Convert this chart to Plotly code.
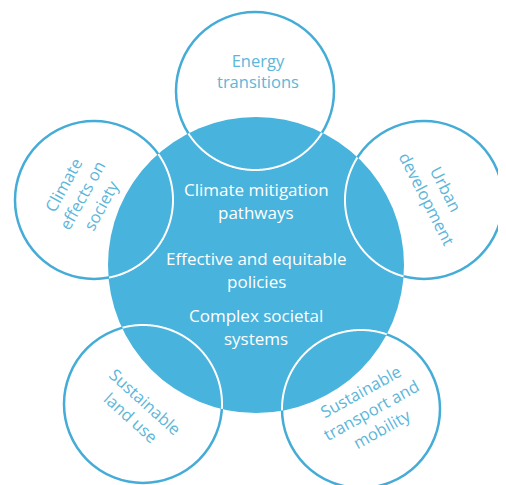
import numpy as np
import plotly.graph_objects as go

# ---- content ----
core_lines = ["Climate mitigation", "pathways",
              "Effective and equitable", "policies",
              "Complex societal", "systems"]
topics = ["Energy<br>transitions",
          "Climate<br>effects on<br>society",
          "Urban<br>development",
          "Sustainable<br>land use",
          "Sustainable<br>transport and<br>mobility"]

# ---- layout (pixel coordinates of the page) ----
W, H = 506, 485
PAGE_OFF = 8  # default body margin of the html page
core_c = (256, 265)
core_r = 148
sat_centers = [(255, 91), (94, 200), (424, 200), (143, 404), (361, 409)]
sat_r = 79
core_text_y = [189, 212, 258, 281, 315, 338]
topic_pos = [(258, 71), (82, 195), (437, 194), (138, 409), (371, 410)]
topic_angle = [0, -61, 63, 42, -29]

BLUE = "#48b3dc"
LINE = "#44acd7"
TXT = "#5cb6da"
FONT = "Open Sans"

shapes = []
for (cx, cy) in sat_centers:
    shapes.append(dict(type="circle", xref="x", yref="y",
                       x0=cx - sat_r, x1=cx + sat_r, y0=cy - sat_r, y1=cy + sat_r,
                       line=dict(color=LINE, width=2.5), fillcolor="rgba(0,0,0,0)"))
shapes.append(dict(type="circle", xref="x", yref="y",
                   x0=core_c[0] - core_r, x1=core_c[0] + core_r,
                   y0=core_c[1] - core_r, y1=core_c[1] + core_r,
                   line=dict(width=0), fillcolor=BLUE))
t = np.linspace(0, 2 * np.pi, 721)
for (cx, cy) in sat_centers:
    xs = cx + sat_r * np.cos(t)
    ys = cy + sat_r * np.sin(t)
    inside = (xs - core_c[0]) ** 2 + (ys - core_c[1]) ** 2 <= core_r ** 2
    if inside.all() or not inside.any():
        continue
    start = int(np.argmin(inside))
    idx = np.roll(np.arange(len(t) - 1), -start)
    segs, cur = [], []
    for i in idx:
        if inside[i]:
            cur.append((xs[i], ys[i]))
        elif cur:
            segs.append(cur)
            cur = []
    if cur:
        segs.append(cur)
    for seg in segs:
        path = "M " + " L ".join(f"{x:.2f},{y:.2f}" for x, y in seg)
        shapes.append(dict(type="path", xref="x", yref="y", path=path,
                           line=dict(color="white", width=2)))

annotations = []
for txt, y in zip(core_lines, core_text_y):
    annotations.append(dict(x=core_c[0], y=y, xref="x", yref="y", text=txt,
                            showarrow=False, font=dict(family=FONT, size=17, color="white")))
for txt, (x, y), a in zip(topics, topic_pos, topic_angle):
    annotations.append(dict(x=x, y=y, xref="x", yref="y", text=txt, textangle=a,
                            showarrow=False, align="center",
                            font=dict(family=FONT, size=16.5, color=TXT)))

fig = go.Figure()
fig.add_trace(go.Scatter(x=[PAGE_OFF, W], y=[PAGE_OFF, H], mode="markers",
                         marker=dict(opacity=0), hoverinfo="skip", showlegend=False))
fig.update_layout(width=W - PAGE_OFF, height=H - PAGE_OFF,
                  margin=dict(l=0, r=0, t=0, b=0),
                  paper_bgcolor="white", plot_bgcolor="white",
                  shapes=shapes, annotations=annotations,
                  xaxis=dict(range=[PAGE_OFF, W], visible=False, fixedrange=True),
                  yaxis=dict(range=[H, PAGE_OFF], visible=False, fixedrange=True))
fig.write_html("out.html")
